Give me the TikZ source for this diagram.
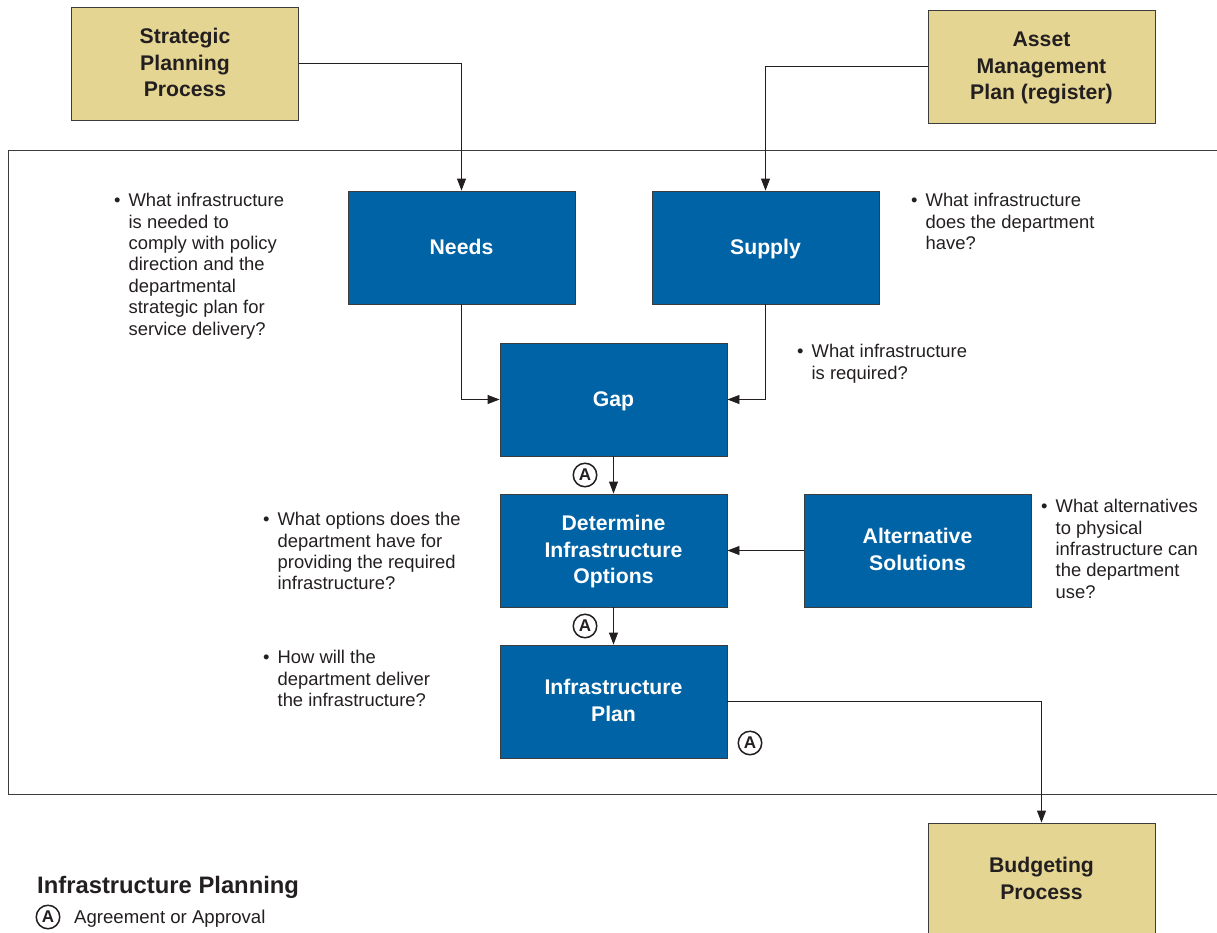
\documentclass[tikz,border=0pt]{standalone}
\usepackage{fontspec}
\setmainfont{Liberation Sans}
\usetikzlibrary{arrows.meta}

\definecolor{planblue}{HTML}{0063A5}
\definecolor{plantan}{HTML}{E4D592}
\definecolor{inkgrey}{HTML}{231F20}
\definecolor{edgegrey}{HTML}{3C3C3C}

\newcommand{\qfont}{\fontsize{18.4}{21.4}\selectfont}
% fixed-size strut so that box titles centre the same way whatever their letters
\newcommand{\bxs}{\vrule height 19.8pt depth 6.5pt width 0pt}

\begin{document}
\begin{tikzpicture}[x=1pt,y=-1pt,
  every node/.style={text=inkgrey},
  procbox/.style={draw=edgegrey, line width=0.9pt, fill=planblue, text=white,
    minimum width=227pt, minimum height=113pt, inner sep=0pt, align=center,
    font=\fontsize{21.2}{26.5}\selectfont\bfseries},
  extbox/.style={procbox, fill=plantan, text=inkgrey},
  flow/.style={draw=inkgrey, line width=0.9pt, -{Triangle[length=12pt,width=9pt]}},
  approval/.style={draw=inkgrey, circle, line width=1.5pt, minimum size=23.5pt,
    inner sep=0pt, font=\fontsize{17}{17}\selectfont\bfseries},
  question/.style={anchor=north west, inner sep=0pt, font=\qfont}
]
\useasboundingbox (0,0) rectangle (1217,932);

% planning frame (open to the right)
\draw[edgegrey, line width=0.9pt] (1220,150) -- (8,150) -- (8,794) -- (1220,794);

% external processes
\node[extbox] (sp)  at (185,63.5)    {\bxs Strategic\\Planning\\Process\bxs};
\node[extbox] (amp) at (1041.5,66.5) {\bxs Asset\\Management\\Plan (register)\bxs};
\node[extbox] (bud) at (1041.5,879.5) {\bxs Budgeting\\Process\bxs};

% planning steps
\node[procbox] (needs)  at (461.5,247.5) {\bxs Needs};
\node[procbox] (supply) at (765.5,247.5) {\bxs Supply};
\node[procbox] (gap)    at (613.5,399.5) {\bxs Gap};
\node[procbox] (det)    at (613.5,550.5) {\bxs Determine\\Infrastructure\\Options\bxs};
\node[procbox] (alt)    at (917.5,550.5) {\bxs Alternative\\Solutions\bxs};
\node[procbox] (plan)   at (613.5,701.5) {\bxs Infrastructure\\Plan\bxs};

% connectors
\draw[flow] (sp.east) -| (needs.north);
\draw[flow] (amp.west) -| (supply.north);
\draw[flow] (needs.south) |- (gap.west);
\draw[flow] (supply.south) |- (gap.east);
\draw[flow] (gap.south) -- (det.north);
\draw[flow] (alt.west) -- (det.east);
\draw[flow] (det.south) -- (plan.north);
\draw[flow] (plan.east) -| (bud.north);

% approval marks
\node[approval] (a1) at (585,475) {A};
\node[approval] (a2) at (585,626) {A};
\node[approval] (a3) at (750,743) {A};

% guiding questions
\node[question] (q1) at (114,191.5) {\begin{tabular}{@{}l@{\hspace{8pt}}l@{}}
  \textbullet & What infrastructure\\ & is needed to\\ & comply with policy\\
  & direction and the\\ & departmental\\ & strategic plan for\\ & service delivery?\end{tabular}};
\node[question] (q2) at (911,191.5) {\begin{tabular}{@{}l@{\hspace{8pt}}l@{}}
  \textbullet & What infrastructure\\ & does the department\\ & have?\end{tabular}};
\node[question] (q3) at (797,342.5) {\begin{tabular}{@{}l@{\hspace{8pt}}l@{}}
  \textbullet & What infrastructure\\ & is required?\end{tabular}};
\node[question] (q4) at (263,510.5) {\begin{tabular}{@{}l@{\hspace{8pt}}l@{}}
  \textbullet & What options does the\\ & department have for\\
  & providing the required\\ & infrastructure?\end{tabular}};
\node[question] (q5) at (1041,497.5) {\begin{tabular}{@{}l@{\hspace{8pt}}l@{}}
  \textbullet & What alternatives\\ & to physical\\ & infrastructure can\\
  & the department\\ & use?\end{tabular}};
\node[question] (q6) at (263,648.5) {\begin{tabular}{@{}l@{\hspace{8pt}}l@{}}
  \textbullet & How will the\\ & department deliver\\ & the infrastructure?\end{tabular}};

% legend
\node[anchor=base west, inner sep=0pt, font=\fontsize{23.8}{26}\selectfont\bfseries]
  (ltitle) at (37,893) {Infrastructure Planning};
\node[approval] (la) at (48,917) {A};
\node[anchor=base west, inner sep=0pt, font=\fontsize{18.6}{22}\selectfont]
  (ltext) at (74,923.5) {Agreement or Approval};
\end{tikzpicture}
\end{document}
